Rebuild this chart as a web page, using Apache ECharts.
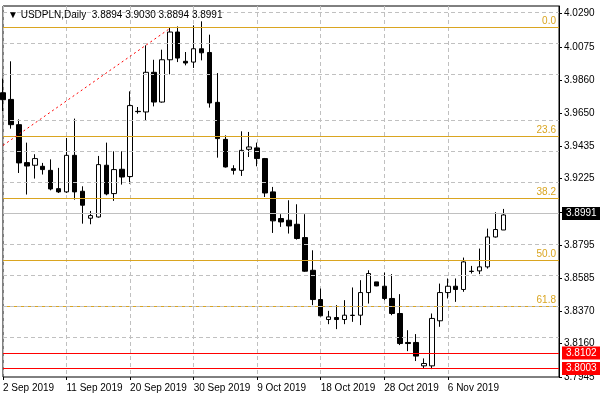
<!DOCTYPE html>
<html><head><meta charset="utf-8">
<script src="https://cdn.jsdelivr.net/npm/echarts@6/dist/echarts.min.js"></script>
<style>html,body{margin:0;padding:0;background:#fff}#c{width:600px;height:400px}</style>
</head><body><div id="c"></div>
<script>
const dates = ['2 Sep 2019','3 Sep 2019','4 Sep 2019','5 Sep 2019','6 Sep 2019','8 Sep 2019','9 Sep 2019','10 Sep 2019',
'11 Sep 2019','12 Sep 2019','13 Sep 2019','15 Sep 2019','16 Sep 2019','17 Sep 2019','18 Sep 2019','19 Sep 2019',
'20 Sep 2019','22 Sep 2019','23 Sep 2019','24 Sep 2019','25 Sep 2019','26 Sep 2019','27 Sep 2019','29 Sep 2019',
'30 Sep 2019','1 Oct 2019','2 Oct 2019','3 Oct 2019','4 Oct 2019','6 Oct 2019','7 Oct 2019','8 Oct 2019',
'9 Oct 2019','10 Oct 2019','11 Oct 2019','13 Oct 2019','14 Oct 2019','15 Oct 2019','16 Oct 2019','17 Oct 2019',
'18 Oct 2019','20 Oct 2019','21 Oct 2019','22 Oct 2019','23 Oct 2019','24 Oct 2019','25 Oct 2019','27 Oct 2019',
'28 Oct 2019','29 Oct 2019','30 Oct 2019','31 Oct 2019','1 Nov 2019','3 Nov 2019','4 Nov 2019','5 Nov 2019',
'6 Nov 2019','7 Nov 2019','8 Nov 2019','10 Nov 2019','11 Nov 2019','12 Nov 2019','13 Nov 2019','14 Nov 2019',
'15 Nov 2019','17 Nov 2019','18 Nov 2019','19 Nov 2019','20 Nov 2019','21 Nov 2019','22 Nov 2019'];
const labelDates = ['2 Sep 2019','11 Sep 2019','20 Sep 2019','30 Sep 2019','9 Oct 2019','18 Oct 2019','28 Oct 2019','6 Nov 2019'];
const priceTicks = [3.7945,3.8160,3.8370,3.8585,3.8795,3.9010,3.9225,3.9435,3.9650,3.9860,4.0075,4.0290];
const open  = [3.9780,3.9737,3.9574,3.9329,3.9312,3.9305,3.9279,3.9161,3.9140,3.9376,3.9144,3.8970,3.8978,3.9312,3.9129,3.9286,
3.9239,3.9660,3.9656,3.9912,3.9720,3.9993,4.0172,3.9983,3.9978,4.0064,4.0040,3.9718,3.9479,3.9290,3.9279,3.9415,
3.9424,3.9355,3.9140,3.8968,3.8957,3.8931,3.8845,3.8634,3.8445,3.8316,3.8329,3.8316,3.8342,3.8344,3.8490,3.8559,
3.8531,3.8452,3.8355,3.8168,3.8168,3.8017,3.8017,3.8308,3.8490,3.8531,3.8510,3.8628,3.8630,3.8656,3.8849,3.8894];
const close = [3.9735,3.9574,3.9327,3.9307,3.9355,3.9284,3.9159,3.9140,3.9376,3.9140,3.9054,3.8987,3.9316,3.9127,3.9284,3.9236,
3.9697,3.9658,3.9912,3.9720,3.9993,4.0172,4.0004,3.9972,4.0064,4.0038,3.9714,3.9484,3.9301,3.9279,3.9408,3.9430,
3.9355,3.9133,3.8953,3.8946,3.8920,3.8839,3.8628,3.8445,3.8340,3.8333,3.8316,3.8344,3.8344,3.8490,3.8613,3.8533,
3.8452,3.8355,3.8161,3.8161,3.8080,3.8032,3.8323,3.8490,3.8531,3.8510,3.8688,3.8626,3.8656,3.8849,3.8897,3.8991];
const low   = [3.9662,3.9548,3.9262,3.9123,3.9226,3.9252,3.9150,3.9133,3.9133,3.9090,3.8935,3.8931,3.8974,3.9118,3.9082,3.9187,
3.9193,3.9645,3.9598,3.9692,3.9716,3.9899,3.9978,3.9957,3.9940,3.9989,3.9684,3.9361,3.9297,3.9252,3.9243,3.9365,
3.9305,3.9107,3.8875,3.8914,3.8871,3.8832,3.8624,3.8409,3.8336,3.8286,3.8254,3.8286,3.8301,3.8280,3.8419,3.8531,
3.8441,3.8344,3.8151,3.8112,3.8048,3.8000,3.7996,3.8269,3.8452,3.8430,3.8495,3.8613,3.8609,3.8645,3.8845,3.8894];
const high  = [3.9871,3.9983,3.9608,3.9458,3.9383,3.9327,3.9350,3.9295,3.9488,3.9613,3.9176,3.9017,3.9372,3.9458,3.9402,3.9402,
3.9789,3.9688,4.0086,3.9993,4.0058,4.0204,4.0208,4.0043,4.0215,4.0241,4.0155,3.9907,3.9505,3.9312,3.9531,3.9527,
3.9458,3.9359,3.9172,3.8996,3.9086,3.9060,3.8996,3.8763,3.8516,3.8372,3.8409,3.8441,3.8523,3.8570,3.8634,3.8559,
3.8619,3.8609,3.8480,3.8247,3.8222,3.8065,3.8355,3.8548,3.8581,3.8581,3.8716,3.8662,3.8774,3.8903,3.9009,3.9030];
const fibLevels = [['0.0',4.0174],['23.6',3.9489],['38.2',3.9065],['50.0',3.8723],['61.8',3.8381]];
const redLevels = [3.8102,3.8003];
const lastPrice = 3.8991;
const trend = [[0,3.9440],[21,4.0195]];

const data = open.map((o,i)=>[o,close[i],low[i],high[i]]);
const FONT = 'Liberation Sans';
const ml = [];
fibLevels.forEach(([t,v])=>ml.push({yAxis:v,lineStyle:{color:'#DAA520',type:'solid',width:1},
  label:{show:true,position:'insideEndTop',formatter:t,color:'#DAA520',fontFamily:FONT,fontSize:10,distance:[3,1]}}));
redLevels.forEach(v=>ml.push({yAxis:v,lineStyle:{color:'#FF0000',type:'solid',width:1},
  label:{show:true,position:'end',formatter:v.toFixed(4),color:'#fff',backgroundColor:'#FF0000',padding:[2,4,1,4],fontFamily:FONT,fontSize:10,distance:3}}));
ml.push({yAxis:lastPrice,lineStyle:{color:'#C0C0C0',type:'solid',width:1},
  label:{show:true,position:'end',formatter:lastPrice.toFixed(4),color:'#fff',backgroundColor:'#000',padding:[2,4,1,4],fontFamily:FONT,fontSize:10,distance:3}});
ml.push([{coord:trend[0]},{coord:trend[1],lineStyle:{color:'#FF0000',type:[2,3],width:1},label:{show:false}}]);

const isLabel = (i,v)=>labelDates.indexOf(v)>=0;
const chart = echarts.init(document.getElementById('c'));
chart.setOption({
  animation:false,
  title:{text:'▼ USDPLN,Daily  3.8894 3.9030 3.8894 3.8991',left:3,top:5,textStyle:{fontFamily:FONT,fontSize:10,fontWeight:'normal',color:'#000'}},
  grid:{left:2,right:41,top:6,bottom:23,show:true,borderColor:'#000',borderWidth:1,backgroundColor:'#fff'},
  xAxis:{type:'category',data:dates,boundaryGap:false,
    axisLine:{show:false},axisTick:{show:true,interval:isLabel,length:3,lineStyle:{color:'#000'}},
    axisLabel:{interval:isLabel,color:'#000',fontFamily:FONT,fontSize:10,margin:6,align:'left'},
    splitLine:{show:true,interval:isLabel,lineStyle:{color:'#c0c0c0',type:[4,3]}}},
  yAxis:{type:'value',position:'right',min:3.7945,max:4.0340,
    axisLine:{show:true,lineStyle:{color:'#000'}},
    axisTick:{show:true,length:3,customValues:priceTicks,lineStyle:{color:'#000'}},
    axisLabel:{color:'#000',fontFamily:FONT,fontSize:10,margin:5,customValues:priceTicks,formatter:v=>v.toFixed(4)},
    splitLine:{show:false}},
  series:[{type:'candlestick',data:data,barWidth:5,
    itemStyle:{color:'#fff',color0:'#000',borderColor:'#000',borderColor0:'#000',borderWidth:1},
    markLine:{symbol:'none',silent:true,animation:false,data:ml.concat(priceTicks.map(v=>({yAxis:v,lineStyle:{color:'#c0c0c0',type:[4,3],width:1},label:{show:false},z:-1})))}}]
});
</script></body></html>
